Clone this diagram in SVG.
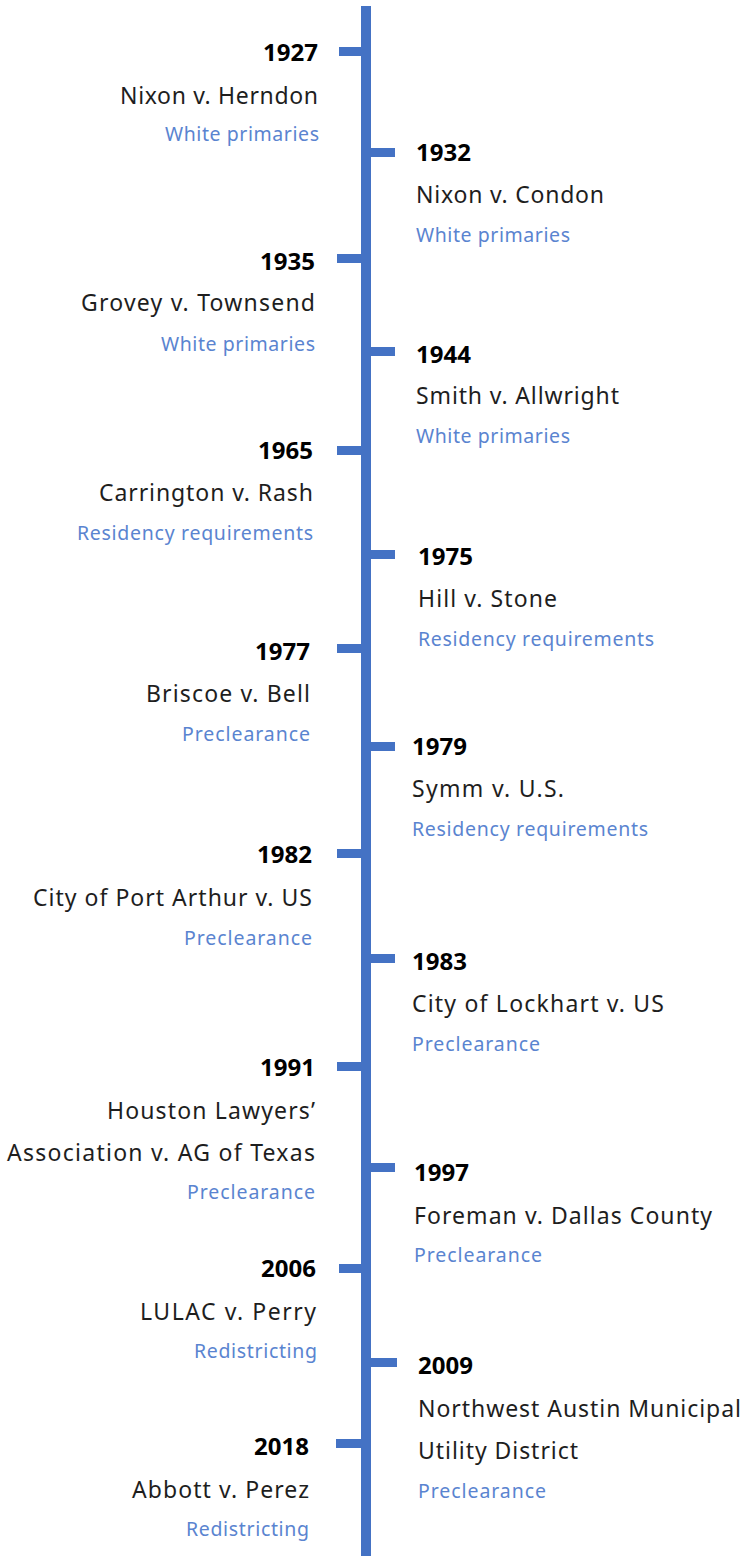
<svg xmlns="http://www.w3.org/2000/svg" width="742" height="1558" viewBox="0 0 742 1558">
<style>
.yr{font-family:"Noto Sans","Liberation Sans",sans-serif;font-weight:bold;font-size:24px;fill:#000}
.nm{font-family:"Noto Sans","Liberation Sans",sans-serif;font-size:23px;fill:#1e1e1e}
.ct{font-family:"Noto Sans","Liberation Sans",sans-serif;font-size:19.5px;fill:#5a84d0}
.L text{text-anchor:end}
.ln{fill:#4472c4}
</style>
<rect width="742" height="1558" fill="#fff"/>
<g id="connectors">
<rect class="ln" x="361" y="6" width="10" height="1550"/>
<rect class="ln" x="339" y="47" width="22" height="9"/>
<rect class="ln" x="371" y="148" width="24" height="9"/>
<rect class="ln" x="337" y="254" width="24" height="9"/>
<rect class="ln" x="371" y="347" width="24" height="9"/>
<rect class="ln" x="337" y="446" width="24" height="9"/>
<rect class="ln" x="371" y="550" width="24" height="9"/>
<rect class="ln" x="337" y="644" width="24" height="9"/>
<rect class="ln" x="371" y="742" width="24" height="9"/>
<rect class="ln" x="337" y="849" width="24" height="9"/>
<rect class="ln" x="371" y="954" width="24" height="9"/>
<rect class="ln" x="337" y="1062" width="24" height="9"/>
<rect class="ln" x="371" y="1163" width="24" height="9"/>
<rect class="ln" x="339" y="1264" width="22" height="9"/>
<rect class="ln" x="371" y="1358" width="26" height="9"/>
<rect class="ln" x="336" y="1439" width="25" height="9"/>
</g>
<g id="n1927" class="L"><text class="yr" x="318" y="61">1927</text><text class="nm" x="318" y="104" textLength="198">Nixon v. Herndon</text><text class="ct" x="319" y="141" textLength="154">White primaries</text></g>
<g id="n1932"><text class="yr" x="416" y="161">1932</text><text class="nm" x="416" y="203" textLength="188">Nixon v. Condon</text><text class="ct" x="416" y="242" textLength="154">White primaries</text></g>
<g id="n1935" class="L"><text class="yr" x="315" y="270">1935</text><text class="nm" x="315" y="311" textLength="234">Grovey v. Townsend</text><text class="ct" x="315" y="351" textLength="154">White primaries</text></g>
<g id="n1944"><text class="yr" x="416" y="363">1944</text><text class="nm" x="416" y="404" textLength="203">Smith v. Allwright</text><text class="ct" x="416" y="443" textLength="154">White primaries</text></g>
<g id="n1965" class="L"><text class="yr" x="313" y="459">1965</text><text class="nm" x="313" y="501" textLength="214">Carrington v. Rash</text><text class="ct" x="313" y="540" textLength="236">Residency requirements</text></g>
<g id="n1975"><text class="yr" x="418" y="565">1975</text><text class="nm" x="418" y="607" textLength="139">Hill v. Stone</text><text class="ct" x="418" y="646" textLength="236">Residency requirements</text></g>
<g id="n1977" class="L"><text class="yr" x="310" y="660">1977</text><text class="nm" x="310" y="702" textLength="164">Briscoe v. Bell</text><text class="ct" x="310" y="741" textLength="128">Preclearance</text></g>
<g id="n1979"><text class="yr" x="412" y="755">1979</text><text class="nm" x="412" y="797" textLength="152">Symm v. U.S.</text><text class="ct" x="412" y="836" textLength="236">Residency requirements</text></g>
<g id="n1982" class="L"><text class="yr" x="312" y="863">1982</text><text class="nm" x="312" y="906" textLength="279">City of Port Arthur v. US</text><text class="ct" x="312" y="945" textLength="128">Preclearance</text></g>
<g id="n1983"><text class="yr" x="412" y="970">1983</text><text class="nm" x="412" y="1012" textLength="252">City of Lockhart v. US</text><text class="ct" x="412" y="1051" textLength="128">Preclearance</text></g>
<g id="n1991" class="L"><text class="yr" x="315" y="1076">1991</text><text class="nm" x="315" y="1119" textLength="208">Houston Lawyers’</text><text class="nm" x="315" y="1161" textLength="308">Association v. AG of Texas</text><text class="ct" x="315" y="1199" textLength="128">Preclearance</text></g>
<g id="n1997"><text class="yr" x="414" y="1181">1997</text><text class="nm" x="414" y="1224" textLength="298">Foreman v. Dallas County</text><text class="ct" x="414" y="1262" textLength="128">Preclearance</text></g>
<g id="n2006" class="L"><text class="yr" x="316" y="1277">2006</text><text class="nm" x="316" y="1320" textLength="176">LULAC v. Perry</text><text class="ct" x="317" y="1358" textLength="123">Redistricting</text></g>
<g id="n2009"><text class="yr" x="418" y="1374">2009</text><text class="nm" x="418" y="1417" textLength="323">Northwest Austin Municipal</text><text class="nm" x="418" y="1459" textLength="160">Utility District</text><text class="ct" x="418" y="1498" textLength="128">Preclearance</text></g>
<g id="n2018" class="L"><text class="yr" x="309" y="1455">2018</text><text class="nm" x="309" y="1498" textLength="177">Abbott v. Perez</text><text class="ct" x="309" y="1536" textLength="123">Redistricting</text></g>
</svg>
